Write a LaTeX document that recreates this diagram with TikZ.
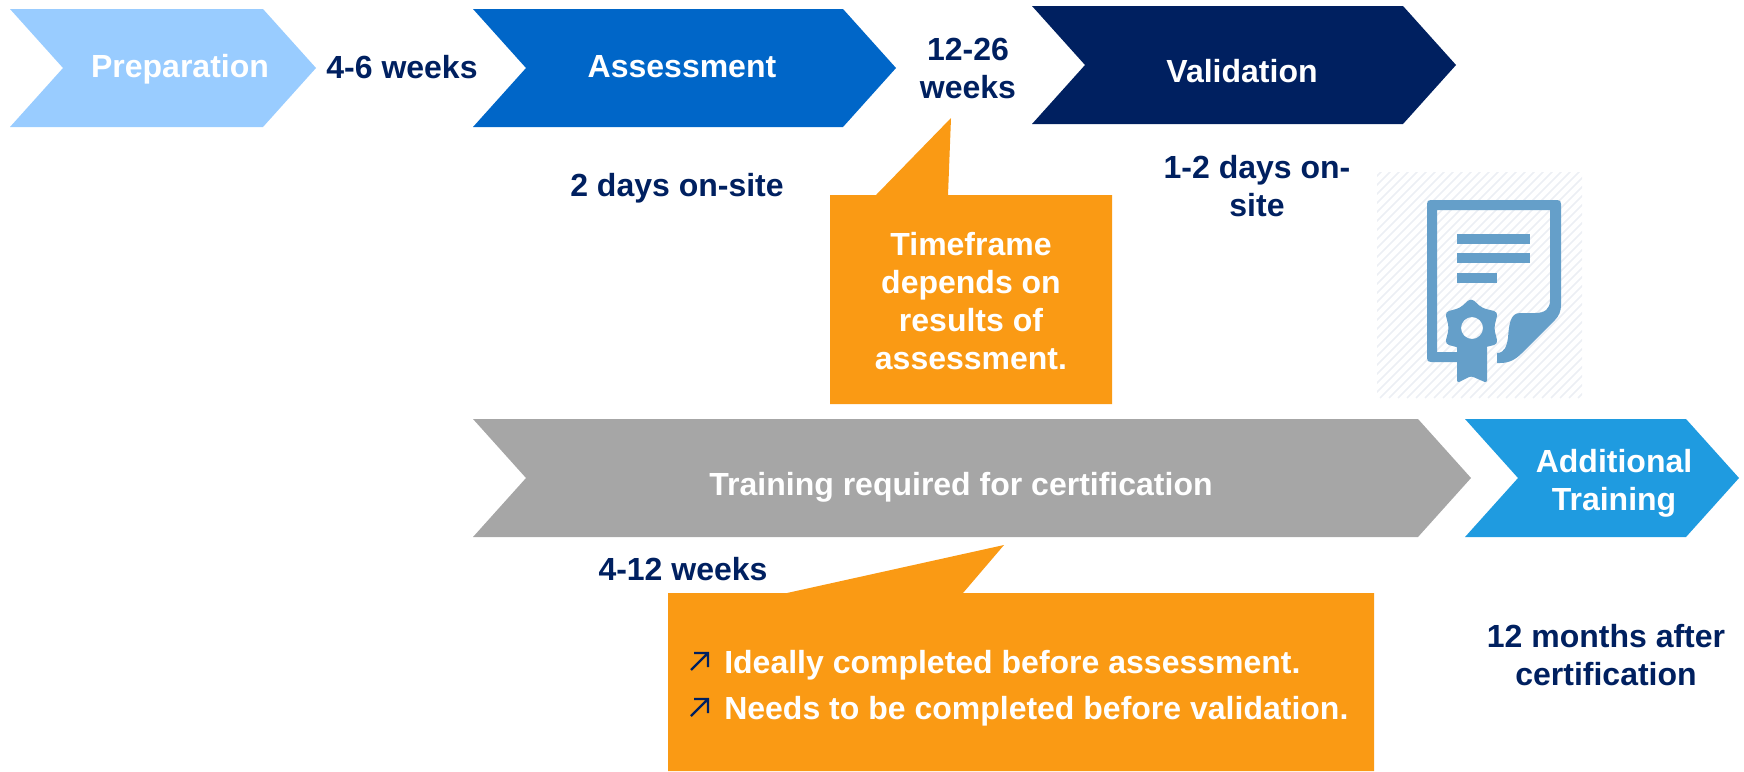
\documentclass[tikz,border=0pt]{standalone}
\usepackage{fontspec}
\setmainfont{Liberation Sans}
\usepackage{xcolor}
\usetikzlibrary{calc}
\definecolor{lightblue}{HTML}{99CCFF}
\definecolor{midblue}{HTML}{0066C8}
\definecolor{navy}{HTML}{002060}
\definecolor{skyblue}{HTML}{1F9BE0}
\definecolor{midgrey}{HTML}{A6A6A6}
\definecolor{callout}{HTML}{FA9A14}
\definecolor{iconblue}{HTML}{659FC9}
\definecolor{hatch}{HTML}{ECEFF4}
\tikzset{
	lbl/.style={font=\fontsize{24}{28.5}\selectfont\bfseries, align=center, inner sep=0pt, text=navy},
	wlbl/.style={lbl, text=white},
	ink/.style={fill=iconblue, draw=none},
}
% left, right, top, bottom, colour
\newcommand{\chevron}[5]{
	\fill[#5] (#1,#3) -- ({#2-53},#3) -- (#2,{(#3+#4)/2}) -- ({#2-53},#4) -- (#1,#4) -- ({#1+53},{(#3+#4)/2}) -- cycle;
}
\begin{document}
\begin{tikzpicture}[x=0.75pt, y=-0.75pt]
		\useasboundingbox (0,0) rectangle (1744,771);
		% chevrons
		\chevron{10}{316}{9}{127}{lightblue}
		\chevron{473}{896}{9}{127}{midblue}
		\chevron{1032}{1456}{6}{124}{navy}
		\chevron{473}{1471}{419}{537}{midgrey}
		\chevron{1465}{1739}{419}{537}{skyblue}
		% callouts
		\fill[callout] (830,195) -- (876,195) -- (951,118) -- (948,195) -- (1112,195) -- (1112,404) -- (830,404) -- cycle;
		\fill[callout] (668,593) -- (787,593) -- (1004,545) -- (963,593) -- (1374,593) -- (1374,771) -- (668,771) -- cycle;
		% certificate
		\begin{scope}
			\clip (1377,172) rectangle (1582,398);
			\foreach \i in {0,...,50}
				\draw[hatch, line width=1.1pt] ({1377+\i*9-240},398) -- ++(240,-240);
		\end{scope}
		\fill[ink] (1431,200) -- (1557,200) .. controls (1560,200) and (1561,201) .. (1561,204) -- (1561,305) .. controls (1561,311) and (1559,316) .. (1555,320) -- (1522,353) .. controls (1516,359) and (1510,363) .. (1500,363) -- (1497,363) -- (1497,353) .. controls (1505,353) and (1507,345) .. (1508,338) .. controls (1509,325) and (1510,313) .. (1520,313) -- (1535,313) .. controls (1545,313) and (1550,309) .. (1550,300) -- (1550,210) -- (1437,210) -- (1437,352) -- (1460,352) -- (1460,362) -- (1431,362) .. controls (1428,362) and (1427,361) .. (1427,358) -- (1427,204) .. controls (1427,201) and (1428,200) .. (1431,200) -- cycle;
		\fill[ink] (1457,234) rectangle (1530,244);
		\fill[ink] (1457,253) rectangle (1530,263);
		\fill[ink] (1457,273) rectangle (1497,283);
		\fill[ink, rounded corners=2pt] (1457,345) -- (1457,383) -- (1471,376) -- (1487,383) -- (1487,345) -- cycle;
		\fill[ink, even odd rule] [rounded corners=3pt] (1471,298) -- (1482,308) -- (1498,312) -- (1494,328) -- (1498,344) -- (1482,348) -- (1471,358) -- (1460,348) -- (1445,344) -- (1449,328) -- (1445,312) -- (1460,308) -- cycle [sharp corners] (1472,328) circle (11);
		% texts
		\node[wlbl] (prep) at (180,69) {Preparation};
		\node[lbl] (prepTime) at (402,67) {4-6 weeks};
		\node[wlbl] (assess) at (682,67) {Assessment};
		\node[lbl] (assessGap) at (968,68) {12-26\\weeks};
		\node[wlbl] (valid) at (1242,71) {Validation};
		\node[lbl] (assessTime) at (677,188) {2 days on-site};
		\node[lbl] (validTime) at (1257,186) {1-2 days on-\\site};
		\node[wlbl] (depends) at (971,301) {Timeframe\\depends on\\results of\\assessment.};
		\node[wlbl] (train) at (961,487) {Training required for certification};
		\node[wlbl] (extra) at (1614,483) {Additional\\Training};
		\node[lbl] (trainTime) at (683,569) {4-12 weeks};
		\node[lbl] (extraTime) at (1606,655) {12 months after\\certification};
		\node[wlbl, anchor=base west] (ideal) at (724,673) {Ideally completed before assessment.};
		\node[wlbl, anchor=base west] (need) at (724,719) {Needs to be completed before validation.};
		% bullets
		\foreach \b/\y in {ideal/670, need/716}
			\draw[navy, line width=1.7pt] (691,\y) -- ++(17,-17) ++(-14,0) -- ++(14,0) -- ++(0,14);
		\end{tikzpicture}
\end{document}
